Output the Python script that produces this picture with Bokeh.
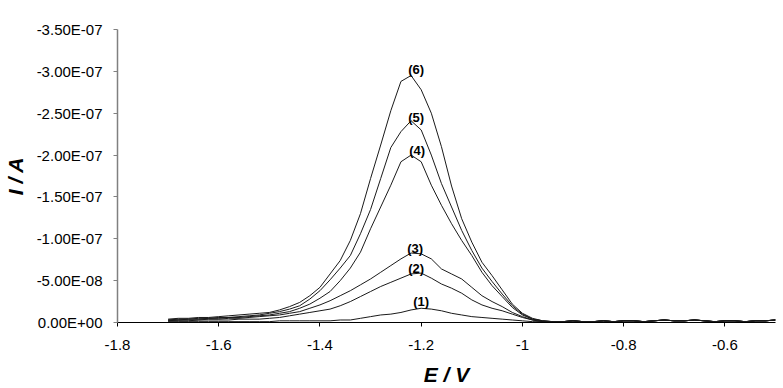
from bokeh.plotting import figure
from bokeh.models import Range1d, FixedTicker, CustomJSTickFormatter, ColumnDataSource
from bokeh.core.properties import value
from bokeh.embed import file_html
from bokeh.resources import INLINE

# Potential grid (V) for the peak region
E = [-1.70, -1.68, -1.66, -1.64, -1.62, -1.60, -1.58, -1.56, -1.54, -1.52,
     -1.50, -1.48, -1.46, -1.44, -1.42, -1.40, -1.38, -1.36, -1.34, -1.32,
     -1.30, -1.28, -1.26, -1.24, -1.22, -1.20, -1.18, -1.16, -1.14, -1.12,
     -1.10, -1.08, -1.06, -1.04, -1.02, -1.00, -0.98, -0.96]

# Currents in units of -1e-7 A (cathodic), curves (1)..(6)
c1 = [0.01, 0.01, 0.01, 0.01, 0.01, 0.01, 0.01, 0.01, 0.01, 0.01,
      0.01, 0.02, 0.02, 0.02, 0.02, 0.02, 0.02, 0.03, 0.03, 0.05,
      0.07, 0.09, 0.10, 0.12, 0.15, 0.17, 0.16, 0.14, 0.11, 0.09,
      0.07, 0.06, 0.05, 0.04, 0.03, 0.02, 0.01, 0.01]
c2 = [0.02, 0.02, 0.02, 0.03, 0.03, 0.03, 0.03, 0.04, 0.04, 0.04,
      0.05, 0.06, 0.08, 0.10, 0.12, 0.14, 0.16, 0.20, 0.25, 0.31,
      0.37, 0.43, 0.48, 0.53, 0.58, 0.59, 0.53, 0.46, 0.41, 0.35,
      0.27, 0.21, 0.17, 0.14, 0.10, 0.06, 0.03, 0.01]
c3 = [0.02, 0.03, 0.03, 0.03, 0.04, 0.04, 0.05, 0.05, 0.06, 0.07,
      0.08, 0.09, 0.11, 0.13, 0.17, 0.21, 0.26, 0.32, 0.38, 0.45,
      0.52, 0.60, 0.68, 0.76, 0.83, 0.82, 0.76, 0.64, 0.58, 0.52,
      0.42, 0.32, 0.25, 0.19, 0.12, 0.07, 0.03, 0.01]
c4 = [0.03, 0.03, 0.04, 0.04, 0.05, 0.05, 0.06, 0.06, 0.07, 0.08,
      0.09, 0.11, 0.13, 0.17, 0.22, 0.29, 0.37, 0.50, 0.65, 0.84,
      1.12, 1.38, 1.64, 1.92, 2.00, 1.92, 1.64, 1.40, 1.18, 0.98,
      0.80, 0.60, 0.44, 0.31, 0.18, 0.09, 0.04, 0.02]
c5 = [0.03, 0.04, 0.04, 0.05, 0.05, 0.06, 0.06, 0.07, 0.08, 0.09,
      0.11, 0.13, 0.16, 0.20, 0.28, 0.38, 0.51, 0.65, 0.80, 1.06,
      1.35, 1.72, 2.09, 2.28, 2.41, 2.30, 2.00, 1.66, 1.38, 1.10,
      0.86, 0.65, 0.49, 0.34, 0.20, 0.10, 0.04, 0.02]
c6 = [0.04, 0.05, 0.05, 0.06, 0.06, 0.07, 0.08, 0.09, 0.10, 0.11,
      0.12, 0.15, 0.19, 0.24, 0.32, 0.42, 0.58, 0.74, 0.98, 1.30,
      1.72, 2.12, 2.53, 2.88, 2.95, 2.78, 2.50, 2.10, 1.63, 1.24,
      0.96, 0.72, 0.56, 0.39, 0.22, 0.11, 0.05, 0.02]

# Baseline after the peak (all curves overlap here)
tail_E = [-0.94, -0.92, -0.90, -0.88, -0.86, -0.84, -0.82, -0.80, -0.78, -0.76,
          -0.74, -0.72, -0.70, -0.68, -0.66, -0.64, -0.62, -0.60, -0.58, -0.56,
          -0.54, -0.52, -0.50]
tail_I = [0.01, 0.01, 0.02, 0.01, 0.01, 0.02, 0.01, 0.02, 0.02, 0.01,
          0.02, 0.03, 0.02, 0.02, 0.03, 0.02, 0.01, 0.02, 0.02, 0.01,
          0.02, 0.02, 0.03]

curve_names = ["(1)", "(2)", "(3)", "(4)", "(5)", "(6)"]
curves = [c1, c2, c3, c4, c5, c6]

y_ticks = [0.0, -0.5e-7, -1.0e-7, -1.5e-7, -2.0e-7, -2.5e-7, -3.0e-7, -3.5e-7]
x_ticks = [-1.8, -1.6, -1.4, -1.2, -1.0, -0.8, -0.6]

SCALE = -1e-7

p = figure(width=783, height=388,
           x_range=Range1d(-1.8, -0.5), y_range=Range1d(0, -3.5e-7),
           output_backend="svg", toolbar_location=None,
           min_border_left=111, min_border_right=8,
           min_border_top=29, min_border_bottom=66)
p.outline_line_color = None
p.grid.visible = False
p.background_fill_color = "white"
p.border_fill_color = "white"

FONT = "Liberation Sans"

# label offsets (screen px) relative to each curve's peak
label_dx = [0, -5, 4, 6, 5, 5]
label_dy = [-7, -5, -5, -5, -3, -6]

lx, ly, lt = [], [], []
for name, c in zip(curve_names, curves):
    xs = E + tail_E
    ys = [v * SCALE for v in c + tail_I]
    p.line(xs, ys, line_color="#1a1a1a", line_width=1)
    k = c.index(max(c))
    lx.append(E[k]); ly.append(c[k] * SCALE); lt.append(name)

src = ColumnDataSource(dict(x=lx, y=ly, t=lt, dx=label_dx, dy=label_dy))
p.text(x="x", y="y", text="t", x_offset="dx", y_offset="dy", source=src,
       text_font=value(FONT), text_font_size="13px", text_font_style="bold",
       text_align="center", text_baseline="middle", text_color="black")

# axes
xa = p.xaxis[0]
ya = p.yaxis[0]
xa.ticker = FixedTicker(ticks=x_ticks, minor_ticks=[])
ya.ticker = FixedTicker(ticks=y_ticks, minor_ticks=[])
xa.formatter = CustomJSTickFormatter(code="return String(Number(tick.toFixed(1)));")
ya.formatter = CustomJSTickFormatter(code=r"""
const s = tick.toExponential(2).toUpperCase();
return s.replace(/E([+-])(\d)$/, (m, a, b) => 'E' + a + '0' + b);
""")
for ax in (xa, ya):
    ax.major_tick_in = 0
    ax.major_tick_out = 4
    ax.minor_tick_line_color = None
    ax.major_label_text_font = FONT
    ax.major_label_text_font_size = "15px"
    ax.major_label_text_color = "black"
    ax.axis_label_text_font = FONT
    ax.axis_label_text_font_size = "21px"
    ax.axis_label_text_font_style = "bold italic"
    ax.axis_label_text_color = "black"

xa.axis_label = "E / V"
ya.axis_label = "I / A"
xa.axis_line_color = "black"
xa.major_tick_line_color = "black"
ya.axis_line_color = "#808080"
ya.axis_line_width = 1.5
ya.major_tick_line_color = "#808080"
xa.major_label_standoff = 13
xa.axis_label_standoff = 10
ya.major_label_standoff = 11
ya.axis_label_standoff = 7

open("out.html", "w").write(file_html(p, INLINE))
